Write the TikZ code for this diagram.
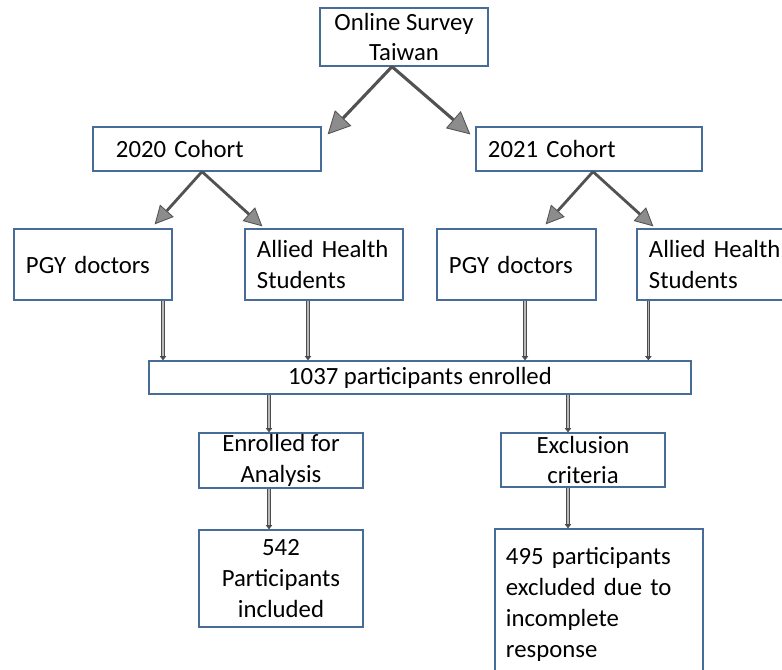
\documentclass[tikz,border=0pt]{standalone}
\usepackage{fontspec}
\setmainfont{Carlito}
\usepackage{tikz}
\usetikzlibrary{arrows.meta}
\definecolor{boxblue}{RGB}{72,108,152}
\newcommand\fs{\fontsize{17.6}{22}\selectfont}

\begin{document}
\begin{tikzpicture}[x=0.025cm, y=-0.025cm,
	box/.style={draw=boxblue, line width=0.9pt, fill=white, inner xsep=0.3cm, inner ysep=0pt, font=\fs},
	lbox/.style={box, align=left, text width=3.35cm, minimum height=1.775cm},
	cbox/.style={box, align=center, minimum width=4.1cm},
	darr/.style={draw=black!68, line width=2.2pt, -{Triangle[length=16pt, width=16pt, fill=black!45, line width=0.6pt]}},
	sarr/.style={draw=black!68, line width=2pt, -{Triangle[length=13pt, width=13pt, fill=black!45, line width=0.6pt]}},
	vline/.style={draw=black!70, double=gray!55, line width=0.55pt, double distance=1.1pt, -{Triangle[length=3pt, width=4.5pt, fill=black!70]}}]
\clip (0,0) rectangle (782,670);
\fill[white] (0,0) rectangle (782,670);
\node[cbox, minimum width=4.2cm, minimum height=1.45cm] (survey) at (404,37) {Online Survey\\Taiwan};
\node[box, align=left, inner xsep=0.575cm, text width=4.55cm, minimum height=1.1cm] (c2020) at (207,149) {2020 Cohort};
\node[box, align=left, text width=5.05cm, minimum height=1.1cm] (c2021) at (589,149) {2021 Cohort};
\node[lbox] (pgya) at (93,264.5) {PGY doctors};
\node[lbox] (ahsa) at (324,264.5) {Allied Health\\Students};
\node[lbox, text width=3.375cm] (pgyb) at (516.5,264.5) {PGY doctors};
\node[lbox] (ahsb) at (716,264.5) {Allied Health\\Students};
\node[cbox, minimum width=13.55cm, minimum height=0.825cm] (total) at (420,377.5) {1037 participants enrolled};
\node[cbox, minimum height=1.375cm] (enrolled) at (281,460.5) {Enrolled for\\Analysis};
\node[cbox, minimum height=1.35cm] (excl) at (583,460) {Exclusion\\criteria};
\node[cbox, minimum height=2.425cm] (incl) at (281,578.5) {542\\Participants\\included};
\node[box, align=left, inner xsep=0.275cm, text width=4.65cm, minimum height=3.775cm] (excluded) at (599,604.5) {495 participants\\excluded due to\\incomplete\\response};
\coordinate (s0) at ([shift={(-12,0)}]survey.south);
\draw[darr] (s0) -- ([shift={(6,8)}]c2020.north east);
\draw[darr] (s0) -- ([shift={(-5,8)}]c2021.north west);
\draw[sarr] ([shift={(-5,0)}]c2020.south) -- ([shift={(-18,-4)}]pgya.north east);
\draw[sarr] ([shift={(-5,0)}]c2020.south) -- ([shift={(18,-2)}]ahsa.north west);
\draw[sarr] ([shift={(4,0)}]c2021.south) -- ([shift={(-51,-4)}]pgyb.north east);
\draw[sarr] ([shift={(4,0)}]c2021.south) -- ([shift={(17,-2)}]ahsb.north west);
\draw[vline] ([shift={(70,0)}]pgya.south) -- ([shift={(70,0)}]pgya.south |- total.north);
\draw[vline] ([shift={(-16,0)}]ahsa.south) -- ([shift={(-16,0)}]ahsa.south |- total.north);
\draw[vline] ([shift={(8.5,0)}]pgyb.south) -- ([shift={(8.5,0)}]pgyb.south |- total.north);
\draw[vline] ([shift={(12,0)}]ahsb.south west) -- ([shift={(12,0)}]ahsb.south west |- total.north);
\draw[vline] ([shift={(-12,0)}]enrolled.north |- total.south) -- ([shift={(-12,0)}]enrolled.north);
\draw[vline] ([shift={(-15,0)}]excl.north |- total.south) -- ([shift={(-15,0)}]excl.north);
\draw[vline] ([shift={(-12,0)}]enrolled.south) -- ([shift={(-12,0)}]incl.north);
\draw[vline] ([shift={(-15,0)}]excl.south) -- ([shift={(-15,0)}]excl.south |- excluded.north);
\end{tikzpicture}
\end{document}
